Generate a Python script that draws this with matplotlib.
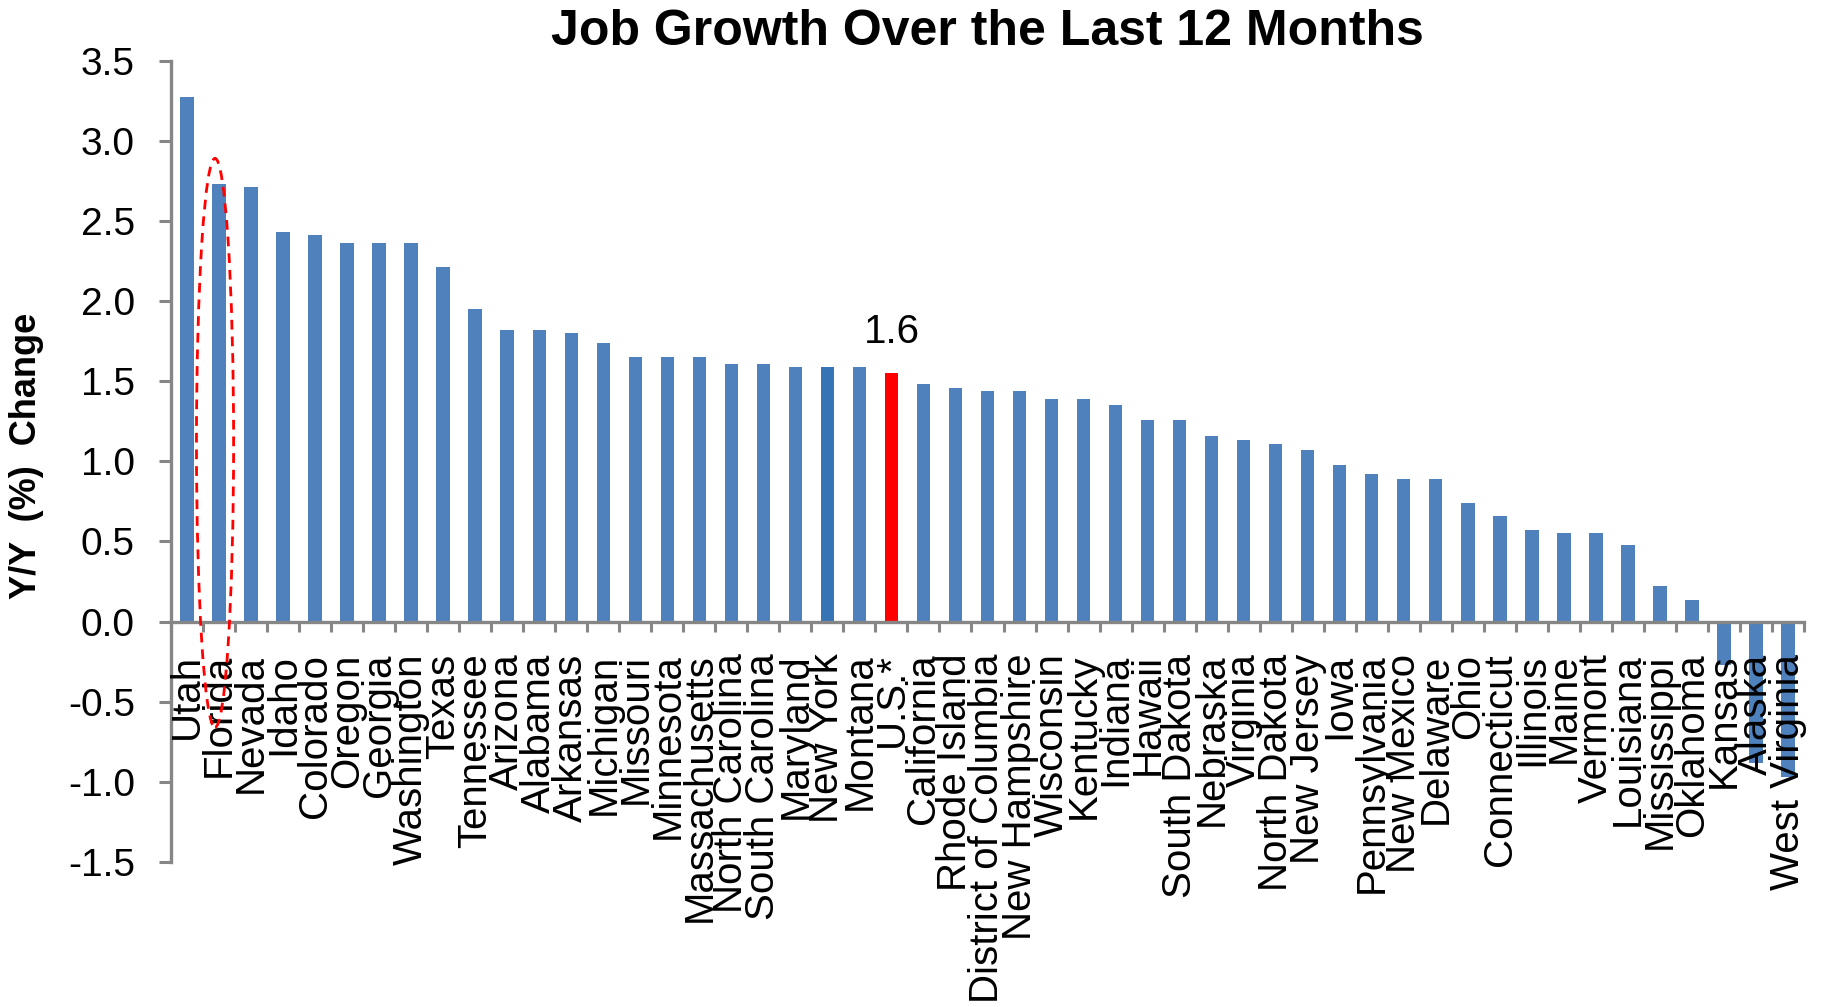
import matplotlib
matplotlib.use("Agg")
import matplotlib.pyplot as plt
from matplotlib.patches import Ellipse
from matplotlib.ticker import FixedLocator, FuncFormatter
import numpy as np

plt.rcParams['font.family'] = ['Liberation Sans', 'DejaVu Sans']

states = [
    "Utah", "Florida", "Nevada", "Idaho", "Colorado", "Oregon", "Georgia",
    "Washington", "Texas", "Tennessee", "Arizona", "Alabama", "Arkansas",
    "Michigan", "Missouri", "Minnesota", "Massachusetts", "North Carolina",
    "South Carolina", "Maryland", "New York", "Montana", "U.S.*", "California",
    "Rhode Island", "District of Columbia", "New Hampshire", "Wisconsin",
    "Kentucky", "Indiana", "Hawaii", "South Dakota", "Nebraska", "Virginia",
    "North Dakota", "New Jersey", "Iowa", "Pennsylvania", "New Mexico",
    "Delaware", "Ohio", "Connecticut", "Illinois", "Maine", "Vermont",
    "Louisiana", "Mississippi", "Oklahoma", "Kansas", "Alaska", "West Virginia",
]
yoy_change = [
    3.27, 2.73, 2.71, 2.43, 2.41, 2.36, 2.36,
    2.36, 2.21, 1.95, 1.82, 1.82, 1.80,
    1.74, 1.65, 1.65, 1.65, 1.61,
    1.61, 1.59, 1.59, 1.59, 1.55, 1.48,
    1.46, 1.44, 1.44, 1.39,
    1.39, 1.35, 1.26, 1.26, 1.16, 1.13,
    1.11, 1.07, 0.98, 0.92, 0.89,
    0.89, 0.74, 0.66, 0.57, 0.55, 0.55,
    0.48, 0.22, 0.135, -0.27, -0.88, -0.97,
]
y_ticks = [-1.5, -1.0, -0.5, 0.0, 0.5, 1.0, 1.5, 2.0, 2.5, 3.0, 3.5]

BLUE = "#4F81BD"
DARK_BLUE = "#3674B5"
RED = "#FF0000"
GRAY = "#868686"

colors = [BLUE] * len(states)
colors[states.index("New York")] = DARK_BLUE
colors[states.index("U.S.*")] = RED

fig = plt.figure(figsize=(18.27, 10.07), dpi=100)
ax = fig.add_axes([0.0936, 0.144, 0.8938, 0.7958])
ax.set_axisbelow(False)  # category names sit on top of the negative bars

x = np.arange(len(states))
ax.bar(x, yoy_change, width=0.42, color=colors, zorder=2)

ax.set_xlim(-0.5, len(states) - 0.5)
ax.set_ylim(y_ticks[0], y_ticks[-1])

# spines: left axis and a zero line at the bottom
for side in ("top", "right"):
    ax.spines[side].set_visible(False)
ax.spines["left"].set_color(GRAY)
ax.spines["left"].set_linewidth(2.4)
ax.spines["bottom"].set_position(("data", 0))
ax.spines["bottom"].set_color(GRAY)
ax.spines["bottom"].set_linewidth(2.4)
ax.spines["bottom"].set_zorder(3)

ax.yaxis.set_major_locator(FixedLocator(y_ticks))
ax.yaxis.set_major_formatter(FuncFormatter(lambda v, p: f"{v:.1f}"))
ax.tick_params(axis="y", which="major", direction="out", length=9, width=2.2,
               color=GRAY, labelsize=28, pad=17)

# x ticks between categories, labels centred under bars
ax.xaxis.set_major_locator(FixedLocator(np.arange(len(states) + 1) - 0.5))
ax.xaxis.set_major_formatter(FuncFormatter(lambda v, p: ""))
ax.set_xticks(x, minor=True)
ax.set_xticklabels(states, minor=True, rotation=90)
ax.tick_params(axis="x", which="major", direction="out", length=7.5, width=2.2,
               color=GRAY)
ax.tick_params(axis="x", which="minor", length=0, labelsize=29, pad=23)

# value label on the U.S. bar
us_idx = states.index("U.S.*")
ax.annotate(f"{yoy_change[us_idx]:.1f}", xy=(us_idx, yoy_change[us_idx]),
            xytext=(0, 22), textcoords="offset points",
            ha="center", va="baseline", fontsize=29)

# dashed highlight around Florida
fl_idx = states.index("Florida")
top = yoy_change[fl_idx] + 0.16
bottom = -0.66
ax.add_patch(Ellipse((fl_idx - 0.125, (top + bottom) / 2), width=1.16,
                     height=top - bottom, fill=False, edgecolor=RED,
                     linewidth=2, linestyle=(0, (3.5, 2.5)), zorder=4,
                     clip_on=False))

fig.text(0.5405, 1 - 45 / 1007, "Job Growth Over the Last 12 Months",
         ha="center", va="baseline", fontsize=36, fontweight="bold")
fig.text(27 / 1827, 1 - 456 / 1007, "Y/Y  (%)  Change", rotation=90,
         ha="center", va="center", fontsize=26, fontweight="bold")

fig.savefig("out.png", dpi=100, facecolor="white")
